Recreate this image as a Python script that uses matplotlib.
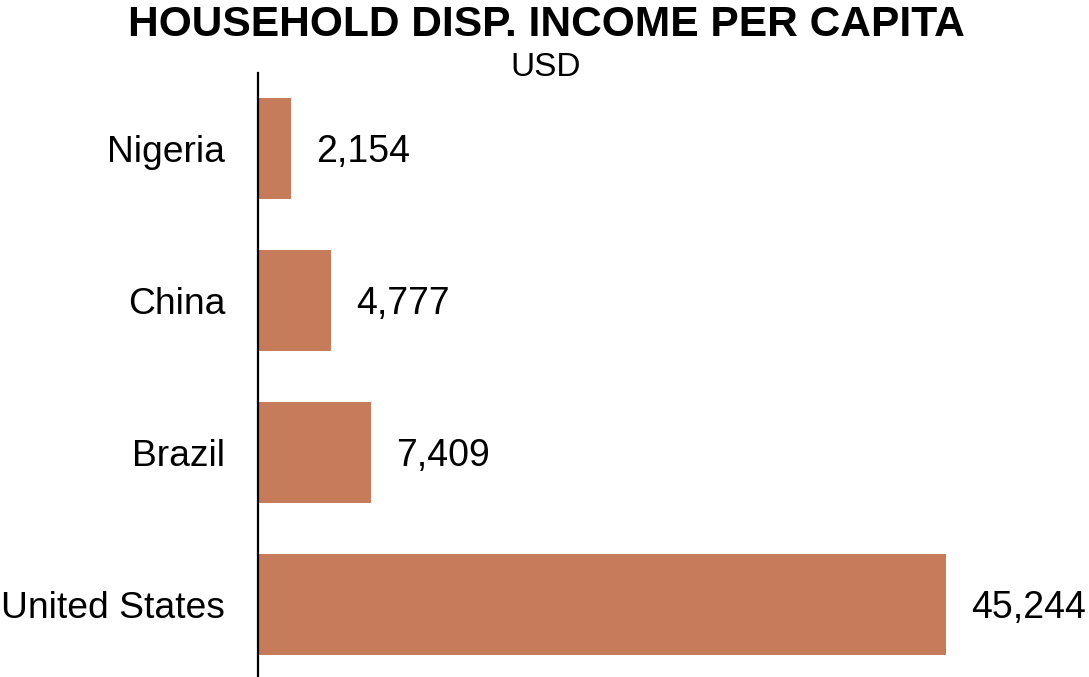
import matplotlib
matplotlib.use("Agg")
import matplotlib.pyplot as plt

countries = ["Nigeria", "China", "Brazil", "United States"]
values = [2154, 4777, 7409, 45244]
value_labels = ["2,154", "4,777", "7,409", "45,244"]

plt.rcParams['font.family'] = ['Liberation Sans', 'DejaVu Sans']

W, H = 1089, 677
fig = plt.figure(figsize=(W / 100, H / 100), dpi=100)
ax = fig.add_axes([258 / W, 0, (W - 258) / W, (H - 73) / H])

pos = list(range(len(countries)))
ax.barh(pos, values, height=0.665, color="#C67B5A")
ax.set_ylim(3.477, -0.497)
ax.set_xlim(0, (W - 258) * 65.76)

for p, v, lab in zip(pos, values, value_labels):
    ax.annotate(lab, xy=(v, p), xytext=(25, -3), textcoords="offset pixels",
                ha="left", va="center", fontsize=27, color="black")

ax.set_yticks(pos)
ax.set_yticklabels(countries, fontsize=26.8)
ax.tick_params(axis="y", length=0, pad=23.5)
for t in ax.get_yticklabels():
    t.set_y(t.get_position()[1])
ax.set_xticks([])
for s in ["top", "right", "bottom"]:
    ax.spines[s].set_visible(False)
ax.spines["left"].set_linewidth(1.6)
ax.spines["left"].set_color("black")

fig.text(546 / W, 1 - 25 / H, "HOUSEHOLD DISP. INCOME PER CAPITA", ha="center",
         va="center", fontsize=30.6, fontweight="bold")
fig.text(546 / W, 1 - 67 / H, "USD", ha="center", va="center", fontsize=24)

fig.savefig("out.png", dpi=100)
